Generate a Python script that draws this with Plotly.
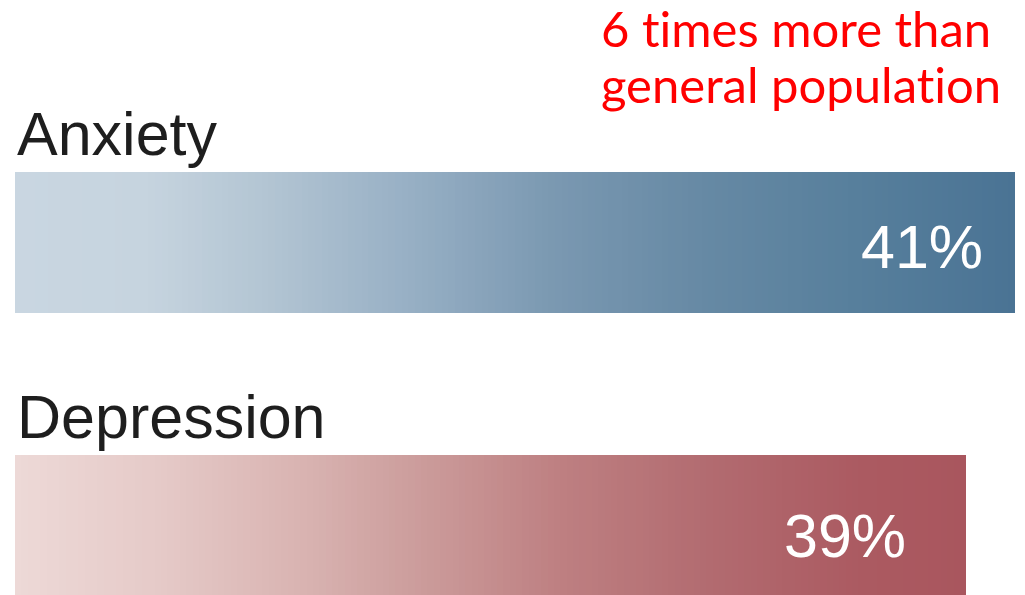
import plotly.graph_objects as go

# ---- data ----
categories = ["Anxiety", "Depression"]
values = [41, 39]
value_labels = ["41%", "39%"]
note_lines = ["6 times more than", "general population"]

# ---- style ----
gradients = {
    "Anxiety": [(0.0, "#c9d6e1"), (0.13, "#c6d4df"), (0.25, "#b3c5d3"), (0.39, "#98b0c5"),
                (0.54, "#7a98b1"), (0.69, "#6689a4"), (0.84, "#577f9c"), (1.0, "#4a7394")],
    "Depression": [(0.0, "#edd9d7"), (0.14, "#e6cbc9"), (0.30, "#d9b4b2"), (0.41, "#cd9f9e"),
                   (0.57, "#be8082"), (0.73, "#b26b70"), (0.89, "#ab5a61"), (1.0, "#a9565e")],
}
label_xshift = [-30, -58]
label_yshift = [-4, -10]
N_SEG = 150
W, H = 1025, 595
ML = 15


def hex2rgb(h):
    h = h.lstrip("#")
    return tuple(int(h[i:i + 2], 16) for i in (0, 2, 4))


def interp(stops, t):
    for (p0, c0), (p1, c1) in zip(stops[:-1], stops[1:]):
        if p0 <= t <= p1:
            f = (t - p0) / (p1 - p0) if p1 > p0 else 0
            a, b = hex2rgb(c0), hex2rgb(c1)
            return "rgb(%d,%d,%d)" % tuple(round(a[i] + (b[i] - a[i]) * f) for i in range(3))
    return stops[-1][1]


fig = go.Figure()
for cat, val in zip(categories, values):
    step = val / N_SEG
    bases = [i * step for i in range(N_SEG)]
    colors = [interp(gradients[cat], (i + 0.5) / N_SEG) for i in range(N_SEG)]
    fig.add_trace(go.Bar(
        y=[cat] * N_SEG, x=[step * 1.02] * N_SEG, base=bases,
        orientation="h", width=0.5,
        marker=dict(color=colors, line=dict(width=0)),
        hoverinfo="skip", showlegend=False,
    ))

for i, (cat, val, lab) in enumerate(zip(categories, values, value_labels)):
    # category name above bar
    fig.add_annotation(x=0, y=cat, xref="x", yref="y", text=cat, showarrow=False,
                       xanchor="left", yanchor="bottom", yshift=73, xshift=0,
                       font=dict(family="Liberation Sans", size=61, color="#1e1e1e"))
    # value label inside bar end
    fig.add_annotation(x=val, y=cat, xref="x", yref="y", text=lab, showarrow=False,
                       xanchor="right", yanchor="middle", xshift=label_xshift[i], yshift=label_yshift[i],
                       font=dict(family="Liberation Sans", size=61, color="white"))

for j, line in enumerate(note_lines):
    fig.add_annotation(x=(600 - ML) / (W - ML), y=1.0, xref="paper", yref="paper", text=line,
                       showarrow=False, xanchor="left", yanchor="top", align="left",
                       yshift=2 - 56 * j, borderpad=0,
                       font=dict(family="Lato", size=49, color="#ff0000"))

fig.update_layout(
    width=W, height=H,
    margin=dict(l=ML, r=0, t=0, b=0),
    paper_bgcolor="white", plot_bgcolor="white",
    barmode="overlay", bargap=0,
    xaxis=dict(range=[0, 41 * (W - ML) / 1000], visible=False, fixedrange=True),
    yaxis=dict(categoryorder="array", categoryarray=["Depression", "Anxiety"],
               range=[-0.2456, 1.857], visible=False, fixedrange=True),
)

fig.write_html(
    "out.html", config={"displayModeBar": False},
    post_script=(
        "document.body.style.margin='0';document.body.style.overflow='hidden';"
        "var s=document.createElement('style');"
        "s.textContent='text{font-variant-ligatures:none !important;font-feature-settings:\"liga\" 0 !important;}';"
        "document.head.appendChild(s);"
    ),
)
